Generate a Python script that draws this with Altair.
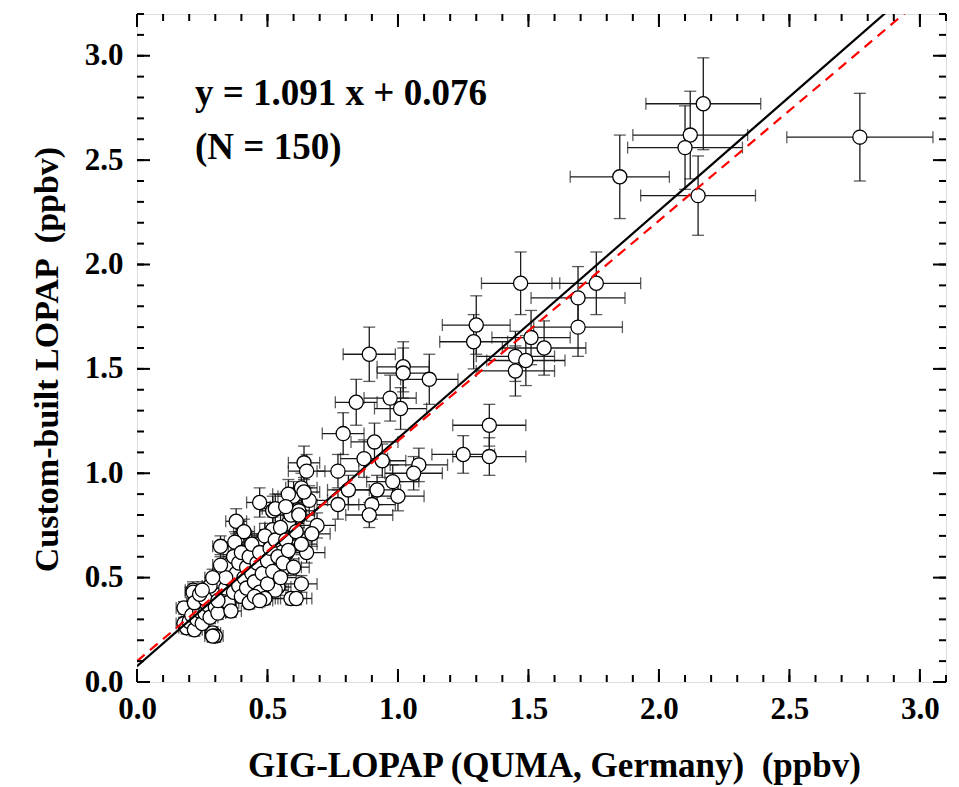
import altair as alt
import pandas as pd

# ---- data ----
x_vals = [2.77, 2.17, 2.12, 2.10, 1.85, 2.15, 1.76, 1.69, 1.69, 1.47,
          1.30, 1.29, 1.51, 1.56, 1.45, 1.49, 1.45, 1.12, 0.89, 1.02,
          1.02, 0.84, 0.97, 1.01, 0.79, 0.91, 0.87, 0.94, 0.64, 0.65,
          0.77, 1.08, 1.06, 0.98, 1.35, 1.25, 1.35, 1.00, 0.92, 0.81,
          0.77, 0.90, 0.89, 0.60, 0.58, 0.63, 0.66, 0.69, 0.67, 0.58,
          0.65, 0.575, 0.63, 0.59, 0.57, 0.47, 0.52, 0.38, 0.41, 0.32,
          0.375, 0.46, 0.52, 0.55, 0.215, 0.54, 0.215, 0.18, 0.18, 0.29,
          0.46, 0.53, 0.27,
          0.19, 0.20, 0.21, 0.22, 0.23, 0.24, 0.22, 0.25, 0.26, 0.27,
          0.28, 0.29, 0.30, 0.30, 0.31, 0.32, 0.33, 0.33, 0.34, 0.35,
          0.35, 0.36, 0.37, 0.37, 0.38, 0.39, 0.39, 0.40, 0.40, 0.41,
          0.42, 0.42, 0.43, 0.44, 0.44, 0.45, 0.46, 0.47, 0.47, 0.48,
          0.49, 0.50, 0.50, 0.51, 0.52, 0.53, 0.54, 0.55, 0.55, 0.56,
          0.57, 0.58, 0.59, 0.60, 0.61, 0.62, 0.63, 0.26, 0.28, 0.31,
          0.34, 0.36, 0.24, 0.32, 0.29, 0.43, 0.45, 0.53, 0.57, 0.62,
          0.64, 0.49, 0.61, 0.30, 0.25, 0.29, 0.47]
y_vals = [2.61, 2.77, 2.62, 2.56, 2.42, 2.33, 1.91, 1.84, 1.70, 1.91,
          1.71, 1.63, 1.65, 1.60, 1.56, 1.54, 1.49, 1.45, 1.57, 1.51,
          1.48, 1.34, 1.36, 1.31, 1.19, 1.15, 1.07, 1.06, 1.05, 1.01,
          1.01, 1.04, 1.00, 0.96, 1.23, 1.09, 1.08, 0.89, 0.92, 0.92,
          0.85, 0.85, 0.80, 0.89, 0.90, 0.93, 0.87, 0.75, 0.71, 0.76,
          0.62, 0.62, 0.47, 0.40, 0.55, 0.86, 0.82, 0.77, 0.72, 0.65,
          0.67, 0.66, 0.73, 0.65, 0.44, 0.455, 0.43, 0.355, 0.28, 0.235,
          0.40, 0.44, 0.43,
          0.26, 0.29, 0.32, 0.25, 0.30, 0.34, 0.38, 0.28, 0.33, 0.37,
          0.31, 0.40, 0.36, 0.44, 0.33, 0.48, 0.41, 0.52, 0.45, 0.38,
          0.56, 0.49, 0.43, 0.60, 0.52, 0.46, 0.57, 0.41, 0.62, 0.50,
          0.55, 0.45, 0.60, 0.52, 0.66, 0.48, 0.57, 0.43, 0.62, 0.52,
          0.70, 0.58, 0.47, 0.64, 0.53, 0.68, 0.60, 0.50, 0.74, 0.57,
          0.68, 0.63, 0.80, 0.55, 0.72, 0.82, 0.66, 0.40, 0.46, 0.39,
          0.50, 0.34, 0.42, 0.56, 0.50, 0.38, 0.41, 0.83, 0.84, 0.80,
          0.91, 0.40, 0.40, 0.22, 0.44, 0.22, 0.39]
x_err = [0.28, 0.22, 0.22, 0.22, 0.19, 0.22, 0.17, 0.18, 0.17, 0.15,
         0.13, 0.13, 0.15, 0.16, 0.15, 0.15, 0.15, 0.11, 0.10, 0.10,
         0.10, 0.08, 0.10, 0.10, 0.08, 0.09, 0.09, 0.09, 0.06, 0.07,
         0.08, 0.11, 0.11, 0.10, 0.14, 0.12, 0.14, 0.10, 0.09, 0.08,
         0.08, 0.09, 0.09, 0.06, 0.06, 0.06, 0.07, 0.07, 0.07, 0.06,
         0.07, 0.06, 0.06, 0.06, 0.06, 0.05, 0.05, 0.04, 0.04, 0.03,
         0.04, 0.05, 0.05, 0.06, 0.03, 0.05, 0.03, 0.03, 0.03, 0.03,
         0.05, 0.05, 0.03,
         0.03, 0.03, 0.03, 0.03, 0.03, 0.03, 0.03, 0.03, 0.03, 0.03,
         0.03, 0.03, 0.03, 0.03, 0.03, 0.03, 0.04, 0.04, 0.04, 0.04,
         0.04, 0.04, 0.04, 0.04, 0.04, 0.04, 0.04, 0.04, 0.04, 0.04,
         0.04, 0.04, 0.05, 0.05, 0.05, 0.05, 0.05, 0.05, 0.05, 0.05,
         0.05, 0.05, 0.05, 0.05, 0.05, 0.05, 0.05, 0.06, 0.06, 0.06,
         0.06, 0.06, 0.06, 0.06, 0.06, 0.06, 0.06, 0.03, 0.03, 0.03,
         0.04, 0.04, 0.03, 0.03, 0.03, 0.05, 0.05, 0.05, 0.06, 0.06,
         0.06, 0.05, 0.06, 0.03, 0.03, 0.03, 0.05]
y_err = [0.21, 0.22, 0.21, 0.20, 0.20, 0.19, 0.15, 0.15, 0.14, 0.15,
         0.14, 0.13, 0.13, 0.13, 0.12, 0.12, 0.12, 0.12, 0.13, 0.12,
         0.12, 0.11, 0.11, 0.10, 0.10, 0.09, 0.09, 0.08, 0.08, 0.08,
         0.08, 0.08, 0.08, 0.08, 0.10, 0.09, 0.09, 0.07, 0.07, 0.07,
         0.07, 0.07, 0.06, 0.07, 0.07, 0.07, 0.07, 0.06, 0.06, 0.06,
         0.05, 0.05, 0.04, 0.03, 0.04, 0.07, 0.07, 0.06, 0.06, 0.05,
         0.05, 0.05, 0.06, 0.05, 0.04, 0.04, 0.04, 0.03, 0.03, 0.03,
         0.03, 0.04, 0.04,
         0.03, 0.03, 0.03, 0.03, 0.03, 0.03, 0.03, 0.03, 0.03, 0.03,
         0.03, 0.03, 0.03, 0.04, 0.03, 0.04, 0.03, 0.04, 0.04, 0.03,
         0.05, 0.04, 0.04, 0.05, 0.04, 0.04, 0.05, 0.03, 0.05, 0.04,
         0.04, 0.04, 0.05, 0.04, 0.05, 0.04, 0.05, 0.04, 0.05, 0.04,
         0.06, 0.05, 0.04, 0.05, 0.04, 0.05, 0.05, 0.04, 0.06, 0.05,
         0.05, 0.05, 0.06, 0.04, 0.06, 0.07, 0.05, 0.03, 0.04, 0.03,
         0.04, 0.03, 0.03, 0.05, 0.04, 0.03, 0.03, 0.07, 0.07, 0.06,
         0.07, 0.03, 0.03, 0.03, 0.04, 0.03, 0.03]

# regression line (black) and reference line (red dashed): slope, intercept
fit_coef = [1.091, 0.076]
ref_coef = [1.055, 0.100]
line_x = [0.0, 3.1]

x_major = [0.0, 0.5, 1.0, 1.5, 2.0, 2.5, 3.0]
y_major = [0.0, 0.5, 1.0, 1.5, 2.0, 2.5, 3.0]
x_minor = [round(i * 0.1, 1) for i in range(32)]
y_minor = [round(i * 0.1, 1) for i in range(33)]

W, H = 809, 668
FONT = "Liberation Serif"

df = pd.DataFrame({"x": x_vals, "y": y_vals, "xe": x_err, "ye": y_err})
df["xlo"] = df.x - df.xe
df["xhi"] = df.x + df.xe
df["ylo"] = df.y - df.ye
df["yhi"] = df.y + df.ye

lines = pd.DataFrame({
    "x": line_x * 2,
    "y": [fit_coef[0] * v + fit_coef[1] for v in line_x] + [ref_coef[0] * v + ref_coef[1] for v in line_x],
    "k": ["fit", "fit", "ref", "ref"],
})

xs = alt.Scale(domain=[0, 3.1], nice=False, zero=False)
ys = alt.Scale(domain=[0, 3.2], nice=False, zero=False)

xaxis = alt.Axis(values=x_major, format=".1f", tickSize=0, domain=False, grid=False,
                 labelFont=FONT, labelFontSize=31, labelFontWeight="bold", labelColor="black",
                 labelPadding=12, labelFlush=False,
                 title="GIG-LOPAP (QUMA, Germany) \u00a0(ppbv)", titleFont=FONT, titleFontSize=35,
                 titleFontWeight="bold", titleColor="black", titlePadding=24, titleX=417)
yaxis = alt.Axis(values=y_major, format=".1f", tickSize=0, domain=False, grid=False,
                 labelFont=FONT, labelFontSize=31, labelFontWeight="bold", labelColor="black",
                 labelPadding=14, labelFlush=False,
                 title="Custom-built LOPAP \u00a0(ppbv)", titleFont=FONT, titleFontSize=34,
                 titleFontWeight="bold", titleColor="black", titlePadding=20, titleY=345)

base = alt.Chart(df)
bar_color = "#1a1a1a"

xbars = base.mark_rule(color=bar_color, strokeWidth=1.3).encode(
    x=alt.X("xlo:Q", scale=xs, axis=xaxis), x2="xhi:Q", y=alt.Y("y:Q", scale=ys, axis=yaxis))
ybars = base.mark_rule(color=bar_color, strokeWidth=1.3).encode(
    x="x:Q", y="ylo:Q", y2="yhi:Q")
capl = base.mark_tick(color=bar_color, orient="vertical", size=12, thickness=1.3).encode(x="xlo:Q", y="y:Q")
capr = base.mark_tick(color=bar_color, orient="vertical", size=12, thickness=1.3).encode(x="xhi:Q", y="y:Q")
capb = base.mark_tick(color=bar_color, orient="horizontal", size=12, thickness=1.3).encode(x="x:Q", y="ylo:Q")
capt = base.mark_tick(color=bar_color, orient="horizontal", size=12, thickness=1.3).encode(x="x:Q", y="yhi:Q")
pts = base.mark_point(shape="circle", size=200, fill="white", fillOpacity=1, stroke="black",
                      strokeWidth=1.3, opacity=1).encode(x="x:Q", y="y:Q")

fit_line = alt.Chart(lines[lines.k == "fit"]).mark_line(color="black", strokeWidth=2.2, clip=True).encode(
    x="x:Q", y="y:Q")
ref_line = alt.Chart(lines[lines.k == "ref"]).mark_line(color="#ff0000", strokeWidth=2.2, strokeDash=[10, 7],
                                                        clip=True).encode(x="x:Q", y="y:Q")

# inward ticks on all four sides
def xticks(vals, length):
    d = pd.DataFrame({"v": vals})
    bot = alt.Chart(d).mark_rule(color="black", strokeWidth=2).encode(
        x="v:Q", y=alt.value(H), y2=alt.value(H - length))
    top = alt.Chart(d).mark_rule(color="black", strokeWidth=2).encode(
        x="v:Q", y=alt.value(0), y2=alt.value(length))
    return [bot, top]

def yticks(vals, length):
    d = pd.DataFrame({"v": vals})
    left = alt.Chart(d).mark_rule(color="black", strokeWidth=2).encode(
        y="v:Q", x=alt.value(0), x2=alt.value(length))
    right = alt.Chart(d).mark_rule(color="black", strokeWidth=2).encode(
        y="v:Q", x=alt.value(W), x2=alt.value(W - length))
    return [left, right]

tick_layers = xticks(x_minor, 7) + xticks(x_major, 13) + yticks(y_minor, 7) + yticks(y_major, 13)

ann1 = alt.Chart(pd.DataFrame({"t": ["y = 1.091 x + 0.076"]})).mark_text(
    font=FONT, fontSize=37, fontWeight="bold", align="left", baseline="alphabetic", color="black").encode(
    text="t:N", x=alt.value(58), y=alt.value(91))
ann2 = alt.Chart(pd.DataFrame({"t": ["(N = 150)"]})).mark_text(
    font=FONT, fontSize=37, fontWeight="bold", align="left", baseline="alphabetic", color="black").encode(
    text="t:N", x=alt.value(58), y=alt.value(145))

chart = alt.layer(xbars, ybars, capl, capr, capb, capt, pts, fit_line, ref_line, *tick_layers, ann1, ann2).properties(
    width=W, height=H,
    autosize=alt.AutoSizeParams(type="none"),
    padding={"left": 137, "top": 14, "right": 13, "bottom": 105},
).configure_view(stroke="black", strokeWidth=2.5).configure(background="white")

chart.save("out.html", embed_options={"renderer": "svg", "actions": False})
